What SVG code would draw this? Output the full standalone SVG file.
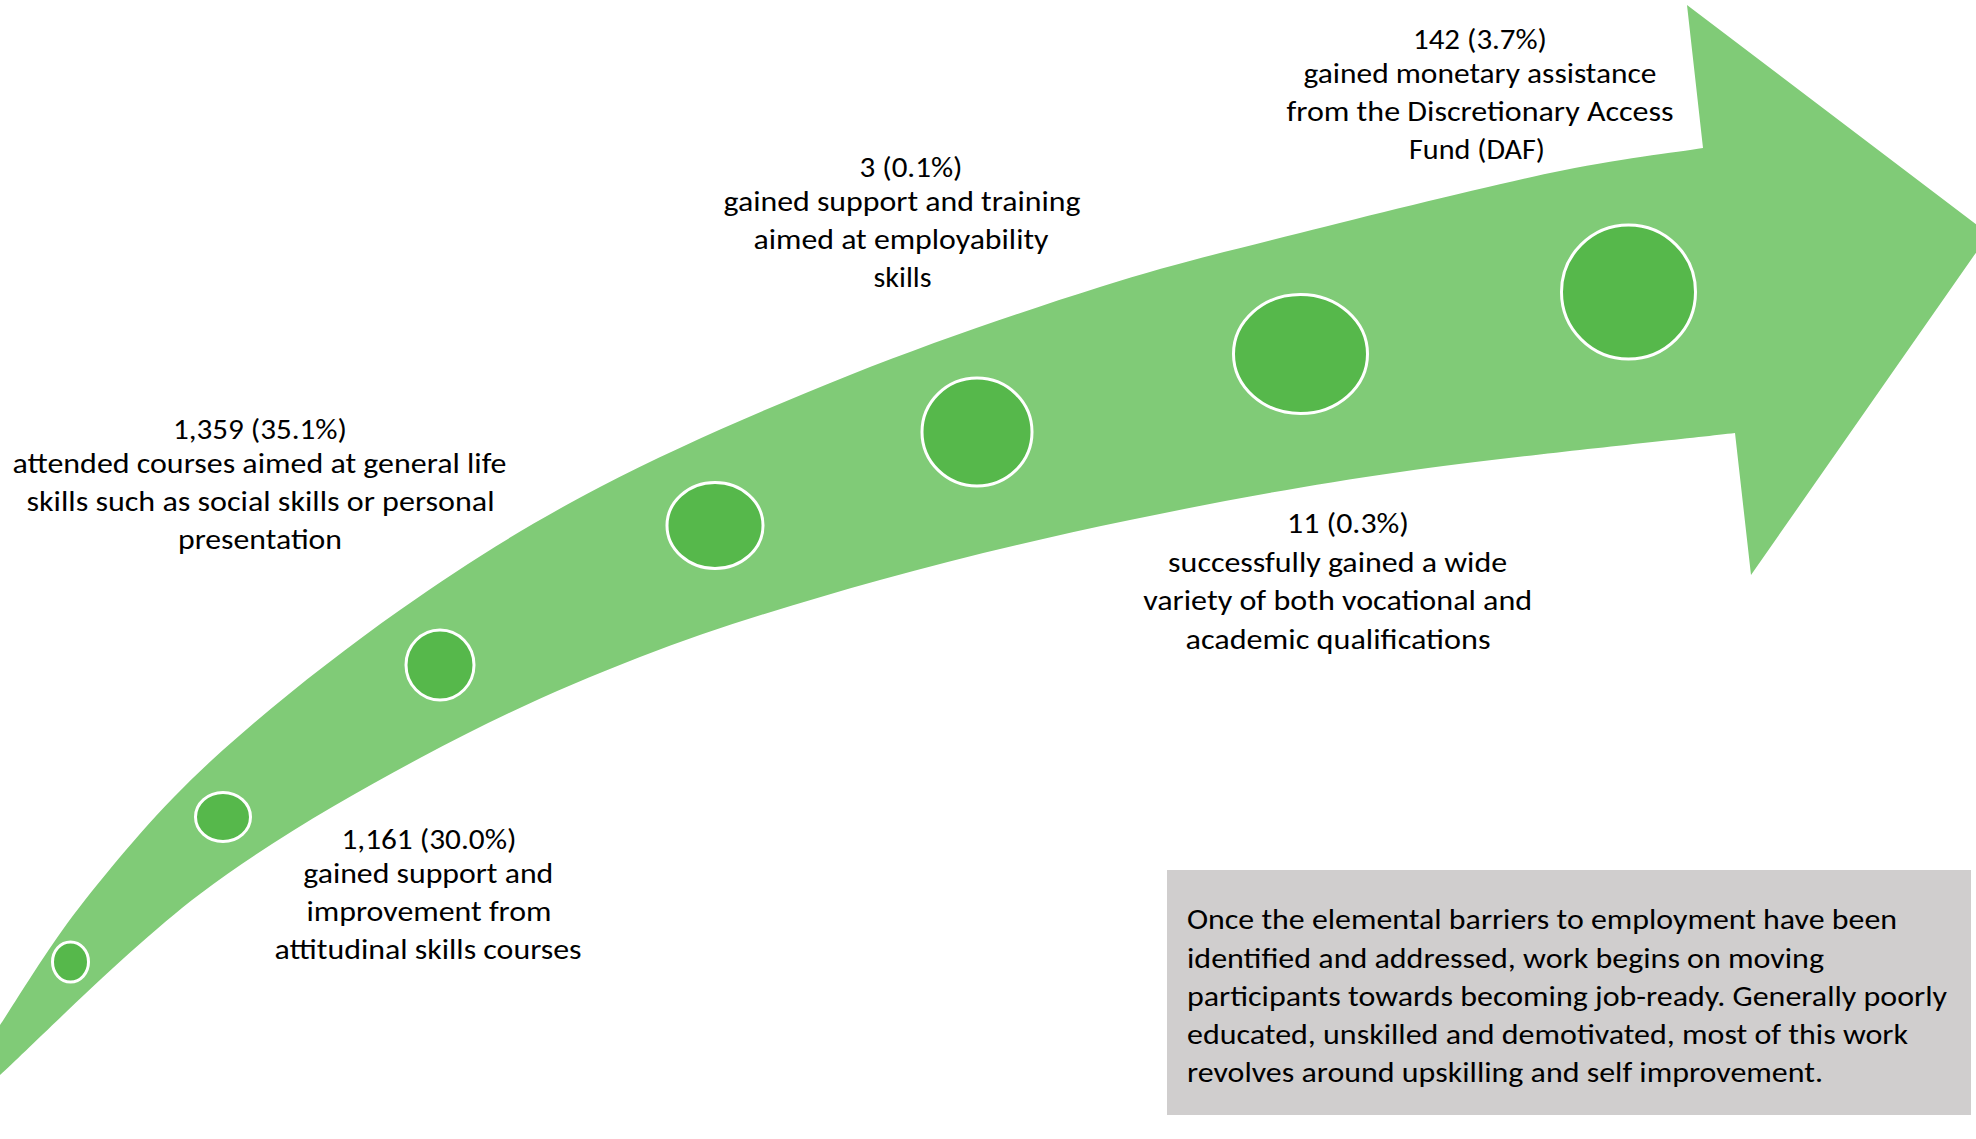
<svg xmlns="http://www.w3.org/2000/svg" width="1976" height="1139" viewBox="0 0 1976 1139">
<style>
.t{font-family:Carlito,Calibri,Lato,"Liberation Sans",sans-serif;font-size:29px;fill:#000}
.c{text-anchor:middle}
.dot{fill:#56B84B;stroke:#FFFFFF;stroke-width:3}
.arrow{fill:#80CB77;stroke:none}
.box{fill:#D0CECE}
</style>
<rect width="1976" height="1139" fill="#FFFFFF"/>
<g id="connectors">
<path id="arrow" class="arrow" d="M 0 1025 C 14.2 1004.2 49.7 944.2 85 900 C 120.3 855.8 159.5 808.3 212 760 C 264.5 711.7 335.3 655.5 400 610 C 464.7 564.5 525 526.2 600 487 C 675 447.8 766.7 408.3 850 375 C 933.3 341.7 1025 310.7 1100 287 C 1175 263.3 1225 252 1300 233 C 1375 214 1482.8 187.2 1550 173 C 1617.2 158.8 1677.5 152.2 1703 148 L 1687 5 L 1989 234 L 1751 575 L 1735 433 C 1679.2 439.5 1500.8 457.5 1400 472 C 1299.2 486.5 1216.7 502 1130 520 C 1043.3 538 961.7 557.2 880 580 C 798.3 602.8 716.7 627.3 640 657 C 563.3 686.7 493.3 718.5 420 758 C 346.7 797.5 270 841.2 200 894 C 130 946.8 33.3 1044.8 0 1075 Z"/>
</g>
<g id="dot1"><ellipse class="dot" cx="70.5" cy="962" rx="18" ry="20"/></g>
<g id="dot2"><ellipse class="dot" cx="223" cy="817" rx="27.5" ry="24.5"/></g>
<g id="dot3"><ellipse class="dot" cx="440" cy="665" rx="34" ry="35"/></g>
<g id="dot4"><ellipse class="dot" cx="715" cy="525.5" rx="48" ry="43"/></g>
<g id="dot5"><ellipse class="dot" cx="977" cy="432" rx="55" ry="54"/></g>
<g id="dot6"><ellipse class="dot" cx="1300.5" cy="354" rx="67" ry="59.5"/></g>
<g id="dot7"><ellipse class="dot" cx="1628.5" cy="292" rx="67" ry="67"/></g>
<g id="label-daf">
<text class="t c" x="1480" y="49" textLength="134" lengthAdjust="spacingAndGlyphs">142 (3.7%)</text>
<text class="t c" x="1480" y="83" textLength="353" lengthAdjust="spacingAndGlyphs">gained monetary assistance</text>
<text class="t c" x="1480" y="121" textLength="387" lengthAdjust="spacingAndGlyphs">from the Discretionary Access</text>
<text class="t c" x="1477" y="159" textLength="136" lengthAdjust="spacingAndGlyphs">Fund (DAF)</text>
</g>
<g id="label-employability">
<text class="t c" x="911" y="177" textLength="103" lengthAdjust="spacingAndGlyphs">3 (0.1%)</text>
<text class="t c" x="902" y="211" textLength="357" lengthAdjust="spacingAndGlyphs">gained support and training</text>
<text class="t c" x="901" y="249" textLength="295" lengthAdjust="spacingAndGlyphs">aimed at employability</text>
<text class="t c" x="902.5" y="287" textLength="58" lengthAdjust="spacingAndGlyphs">skills</text>
</g>
<g id="label-life-skills">
<text class="t c" x="260" y="439" textLength="174" lengthAdjust="spacingAndGlyphs">1,359 (35.1%)</text>
<text class="t c" x="259.5" y="473" textLength="494" lengthAdjust="spacingAndGlyphs">attended courses aimed at general life</text>
<text class="t c" x="260.5" y="511" textLength="468" lengthAdjust="spacingAndGlyphs">skills such as social skills or personal</text>
<text class="t c" x="260" y="549" textLength="164" lengthAdjust="spacingAndGlyphs">presentation</text>
</g>
<g id="label-attitudinal">
<text class="t c" x="429" y="849" textLength="175" lengthAdjust="spacingAndGlyphs">1,161 (30.0%)</text>
<text class="t c" x="428.3" y="883" textLength="250" lengthAdjust="spacingAndGlyphs">gained support and</text>
<text class="t c" x="429" y="921" textLength="245" lengthAdjust="spacingAndGlyphs">improvement from</text>
<text class="t c" x="428" y="959" textLength="307" lengthAdjust="spacingAndGlyphs">attitudinal skills courses</text>
</g>
<g id="label-qualifications">
<text class="t c" x="1348" y="533" textLength="122" lengthAdjust="spacingAndGlyphs">11 (0.3%)</text>
<text class="t c" x="1337.6" y="572" textLength="339" lengthAdjust="spacingAndGlyphs">successfully gained a wide</text>
<text class="t c" x="1337.7" y="610" textLength="389" lengthAdjust="spacingAndGlyphs">variety of both vocational and</text>
<text class="t c" x="1338" y="649" textLength="305" lengthAdjust="spacingAndGlyphs">academic qualifications</text>
</g>
<g id="summary-box">
<rect class="box" x="1167" y="870" width="804" height="245"/>
<text class="t" x="1187" y="929" textLength="710" lengthAdjust="spacingAndGlyphs">Once the elemental barriers to employment have been</text>
<text class="t" x="1187" y="967.5" textLength="637" lengthAdjust="spacingAndGlyphs">identified and addressed, work begins on moving</text>
<text class="t" x="1187" y="1006" textLength="760" lengthAdjust="spacingAndGlyphs">participants towards becoming job-ready. Generally poorly</text>
<text class="t" x="1187" y="1044" textLength="721" lengthAdjust="spacingAndGlyphs">educated, unskilled and demotivated, most of this work</text>
<text class="t" x="1187" y="1082" textLength="636" lengthAdjust="spacingAndGlyphs">revolves around upskilling and self improvement.</text>
</g>
</svg>
